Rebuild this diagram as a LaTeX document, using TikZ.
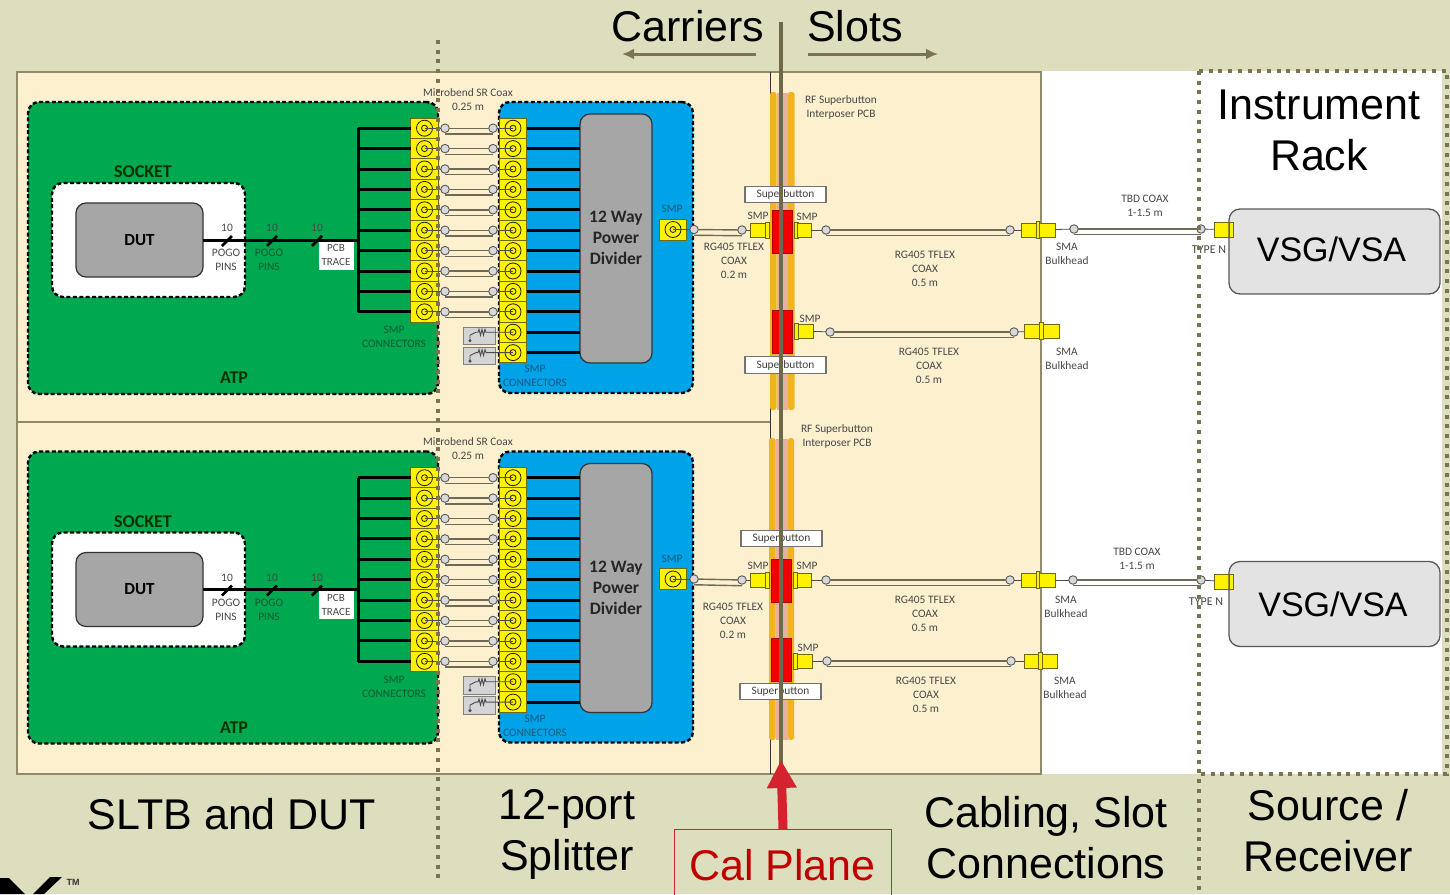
\documentclass[tikz,border=0pt]{standalone}
\usepackage{fontspec}
\setmainfont{Liberation Sans}
\newfontfamily\carlitofont{Carlito}
\usepackage{xcolor}
\usetikzlibrary{arrows.meta}

\definecolor{slidebg}{HTML}{DDDEBE}
\definecolor{creampanel}{HTML}{FDF0CF}
\definecolor{olive}{HTML}{7A7550}
\definecolor{coaxgray}{HTML}{6E6A58}
\definecolor{boardgreen}{HTML}{00A84F}
\definecolor{boardblue}{HTML}{00A3E8}
\definecolor{midgray}{HTML}{A6A6A6}
\definecolor{gold}{HTML}{F0B41E}
\definecolor{pinkish}{HTML}{E8B0A0}
\definecolor{portedge}{HTML}{6B6A10}
\definecolor{calred}{HTML}{C00000}
\definecolor{arrowred}{HTML}{D3232E}
\definecolor{smpblue}{HTML}{0E5A7E}
\definecolor{smpgreen}{HTML}{0A5A32}

\begin{document}
\begin{tikzpicture}[
    x=1pt, y=-1pt,
    board/.style={draw=black, line width=2.4pt, dash pattern=on 4pt off 2.4pt,
        rounded corners=11pt, inner sep=0pt, outer sep=0pt},
    dutbox/.style={draw=black!80, line width=1.2pt, fill=midgray, rounded corners=10pt,
        inner sep=0pt, outer sep=0pt, font=\carlitofont\bfseries\fontsize{17}{20}\selectfont, align=center},
    port/.style={draw=portedge, line width=1pt, fill=yellow, inner sep=0pt, outer sep=0pt,
        minimum width=27.5pt, minimum height=20.4pt,
        path picture={\draw[black!70!portedge, line width=0.8pt] (path picture bounding box.center) circle (8pt) circle (3pt);}},
    plug/.style={draw=portedge, line width=1pt, fill=yellow, inner sep=0pt, outer sep=0pt},
    tab/.style={plug, minimum width=4pt, minimum height=16pt},
    joint/.style={circle, draw=black!65, line width=0.9pt, fill=white!70!gray,
        minimum size=8.5pt, inner sep=0pt, outer sep=0pt},
    cable/.style={draw=coaxgray, line width=1.4pt},
    stub/.style={draw=black!70, line width=0.8pt},
    trace/.style={draw=black, line width=3pt},
    redpad/.style={draw=red!70!black, line width=0.8pt, fill=red!95!black, inner sep=0pt, outer sep=0pt,
        minimum width=20pt, minimum height=43pt},
    strip/.style={fill=gold, rounded corners=2.5pt},
    labelbox/.style={draw=black!55, line width=1.1pt, fill=white, inner sep=0pt, outer sep=0pt,
        minimum width=81pt, minimum height=16.5pt, font=\carlitofont\fontsize{11.4}{13}\selectfont, text=black!75},
    loadbox/.style={draw=black!50, line width=0.9pt, fill=black!17, inner sep=0pt, outer sep=0pt,
        minimum width=32pt, minimum height=17.5pt},
    lbl/.style={font=\carlitofont\fontsize{11.4}{14}\selectfont, text=black!72, align=center, inner sep=0pt},
    lblg/.style={lbl, text=smpgreen},
    lblb/.style={lbl, text=smpblue},
    typen/.style={lbl, font=\carlitofont\fontsize{12}{14}\selectfont},
    head/.style={font=\fontsize{43}{51}\selectfont, text=black, align=center, inner sep=0pt},
    bold/.style={font=\carlitofont\bfseries\fontsize{16}{21}\selectfont, text=black!85, align=center, inner sep=0pt},
    boardname/.style={bold, font=\carlitofont\bfseries\fontsize{18}{20}\selectfont, text=green!20!black},
    instr/.style={draw=black!65, line width=1.3pt, fill=black!11, rounded corners=11pt,
        minimum width=211pt, minimum height=85pt, inner sep=0pt, outer sep=0pt},
    instrname/.style={font=\fontsize{34}{40}\selectfont, inner sep=0pt},
    dotline/.style={draw=olive, line width=3.8pt, dash pattern=on 4pt off 5.7pt},
    dirarrow/.style={draw=olive, line width=3pt, -{Latex[length=12pt,width=11pt]}},
]

\clip (0,0) rectangle (1450,894);
\fill[slidebg] (0,0) rectangle (1450,894);

% --- panels behind everything ---
\fill[white] (1041,71) rectangle (1442,774);
\draw[olive!85, line width=1.2pt, fill=creampanel] (17,72) rectangle (1041,774);
\draw[olive!85, line width=1.2pt] (17,422) -- (770,422);
\draw[black!80, line width=0.9pt] (770,72) -- (770,774);

% --- the two identical benches: SLTB, DUT, splitter ---
\foreach \u/\yo in {a/0, b/349.5} {
\begin{scope}[yshift=-\yo pt]
    \node[board, fill=boardgreen, minimum width=410pt, minimum height=292pt] (atp\u) at (233,248) {};
    \node[board, fill=white, minimum width=193pt, minimum height=114pt] (socket\u) at (148.5,240) {};
    \node[dutbox, minimum width=127pt, minimum height=74pt] (dut\u) at (139.5,240) {DUT};
    \node[boardname] (socketlbl\u) at (143,172) {SOCKET};
    \node[boardname] (atplbl\u) at (234,378) {ATP};

    % 10 lines out of the DUT
    \node[fill=white, minimum width=35pt, minimum height=29pt, inner sep=0pt, lbl, font=\carlitofont\fontsize{11}{14}\selectfont] (pcb\u) at (336,255) {PCB\\TRACE};
    \coordinate (comb\u) at (358,240);
    \draw[trace] (dut\u.east) -- (comb\u);
    \draw[trace] (358,128.2) -- (358,312);
    \foreach \xs in {227,272,317} {
        \draw[line width=2.6pt, black] (\xs-5,246) -- (\xs+5,236);
        \node[lbl] (ten\u\xs) at (\xs,228) {10};
    }
    \node[lbl] (pogoa\u) at (226,260) {POGO\\PINS};
    \node[lblg] (pogob\u) at (269,260) {POGO\\PINS};
    \node[lblg] (smpl\u) at (394,337) {SMP\\CONNECTORS};

    % splitter board
    \node[board, fill=boardblue, minimum width=194pt, minimum height=291pt] (split\u) at (596,247.5) {};
    \node[dutbox, minimum width=72pt, minimum height=249pt, outer sep=0pt] (div\u) at (616,238.5) {};
    \node[bold, font=\carlitofont\bfseries\fontsize{17.5}{21}\selectfont] (divlbl\u) at (616,238) {12 Way\\Power\\Divider};
    \node[lblb] (smpr\u) at (535,376) {SMP\\CONNECTORS};
    \node[lbl] (coaxlbl\u) at (468,99.5) {Microbend SR Coax\\0.25 m};

    % rows of connectors
    \foreach \i in {1,...,12} {
        \node[port] (pr\u\i) at (513,{107.8+20.4*\i}) {};
        \draw[trace] (pr\u\i.east) -- (div\u.west |- pr\u\i.east);
    }
    \foreach \i in {1,...,10} {
        \node[port] (pl\u\i) at (424.5,{107.8+20.4*\i}) {};
        \draw[trace] (358,{107.8+20.4*\i}) -- (pl\u\i.west);
        \node[joint] (jl\u\i) at (445,{107.8+20.4*\i}) {};
        \node[joint] (jr\u\i) at (493,{107.8+20.4*\i}) {};
        \draw[stub] (pl\u\i.center) -- (jl\u\i);
        \draw[stub] (jr\u\i) -- (pr\u\i.center);
        \draw[cable] (jl\u\i) -- (jr\u\i);
        \draw[cable] ([yshift=-1.5pt]jl\u\i.south) -- ([yshift=-1.5pt]jr\u\i.south);
    }

    % two terminated ports
    \foreach \i in {11,12} {
        \node[loadbox] (load\u\i) at (479,{111.3+20.4*\i}) {};
        \draw[stub, line width=0.9pt, -{Circle[length=3pt]}] (pr\u\i.center) -- ++(-27,0) -- ++(-1,-3) -- ++(-1.5,6) -- ++(-1.5,-6)
            -- ++(-1.5,6) -- ++(-1.5,-6) -- ++(-1,3) -- ++(-2,0) -- ++(-6,3) -- ++(0,7);
    }

    % output port of the divider
    \node[port, minimum height=21pt] (out\u) at (673,229.5) {};
    \node[joint] (jo\u) at (694,229.5) {};
    \draw[stub] (out\u.center) -- (jo\u);
    \node[lblb] (smpo\u) at (672,209) {SMP};
\end{scope}
}

% --- interposer strips, top bench ---
\fill[strip] (770,92) rectangle (776.5,410);
\fill[pinkish] (776.5,93) rectangle (788,410);
\fill[strip] (788,92) rectangle (794.5,410);
% --- interposer strips, bottom bench ---
\fill[strip] (769,438) rectangle (775.5,740);
\fill[pinkish] (775.5,439) rectangle (788,740);
\fill[strip] (788,438) rectangle (794,740);

% --- slot connections, top bench ---
\node[labelbox] (sba) at (785.5,194.5) {Superbutton};
\node[labelbox] (sbb) at (785.5,365) {Superbutton};
\node[redpad] (pada) at (782,231.5) {};
\node[redpad] (padb) at (782,331.5) {};
\node[plug, minimum width=15pt, minimum height=14pt] (ca) at (757.5,230) {};
\node[tab] (cta) at (767.5,230) {};
\node[tab] (ctb) at (796,230) {};
\node[plug, minimum width=14pt, minimum height=14pt] (cb) at (804,230) {};
\node[tab] (ctc) at (796,331) {};
\node[plug, minimum width=15pt, minimum height=14pt] (cc) at (805.5,331) {};
\node[joint] (ja) at (742,230) {};
\node[joint] (jb) at (826,230) {};
\node[joint] (jc) at (1010,230) {};
\node[joint] (jd) at (830,332) {};
\node[joint] (je) at (1014,332) {};
\draw[stub] (ja) -- (ca);
\draw[stub] (cb) -- (jb);
\draw[stub] (cc) -- (jd);
\draw[cable] (joa) -- (ja);
\draw[cable] ([yshift=-1.5pt]joa.south) -- ([yshift=-1.5pt]ja.south);
\draw[cable] (jb) -- (jc);
\draw[cable] ([yshift=-1.5pt]jb.south) -- ([yshift=-1.5pt]jc.south);
\draw[cable] (jd) -- (je);
\draw[cable] ([yshift=-1.5pt]jd.south) -- ([yshift=-1.5pt]je.south);

\node[plug, minimum width=34pt, minimum height=14pt] (bha) at (1038,230) {};
\node[plug, minimum width=3.5pt, minimum height=17pt] (bhat) at (1038,230) {};
\node[plug, minimum width=35pt, minimum height=14pt] (bhb) at (1041.5,331) {};
\node[plug, minimum width=3.5pt, minimum height=17pt] (bhbt) at (1041.5,331) {};
\draw[stub] (jc) -- (bha);
\draw[stub] (je) -- (bhb);
\node[joint] (jf) at (1074,229) {};
\node[joint] (jg) at (1201,229) {};
\draw[stub] (bha) -- (jf);
\draw[cable] (jf) -- (jg);
\draw[cable] ([yshift=-1.5pt]jf.south) -- ([yshift=-1.5pt]jg.south);
\node[plug, minimum width=19pt, minimum height=15pt] (na) at (1223.5,229.5) {};
\draw[stub] (jg) -- (na);

\node[lbl] (rfa) at (841,107) {RF Superbutton\\Interposer PCB};
\node[lbl] (smpa) at (758,216) {SMP};
\node[lbl] (smpb) at (807,217) {SMP};
\node[lbl] (smpc) at (810,319) {SMP};
\node[lbl] (rga) at (734,261) {RG405 TFLEX\\COAX\\0.2 m};
\node[lbl] (rgb) at (925,269) {RG405 TFLEX\\COAX\\0.5 m};
\node[lbl] (rgc) at (929,366) {RG405 TFLEX\\COAX\\0.5 m};
\node[lbl] (sma) at (1067,254) {SMA\\Bulkhead};
\node[lbl] (smb) at (1067,359) {SMA\\Bulkhead};
\node[lbl] (tbda) at (1145,205.5) {TBD COAX\\1-1.5 m};
\node[typen] (tna) at (1209,250) {TYPE N};

% --- slot connections, bottom bench ---
\node[labelbox] (sbc) at (781.5,538.5) {Superbutton};
\node[labelbox] (sbd) at (780.5,691.5) {Superbutton};
\node[redpad] (padc) at (781,580.5) {};
\node[redpad] (padd) at (781,659.5) {};
\node[plug, minimum width=15pt, minimum height=14pt] (cd) at (757.5,580) {};
\node[tab] (ctd) at (767.5,580) {};
\node[tab] (cte) at (795,580) {};
\node[plug, minimum width=14pt, minimum height=14pt] (ce) at (804,580) {};
\node[tab] (ctf) at (795,661) {};
\node[plug, minimum width=15pt, minimum height=14pt] (cf) at (804.5,661) {};
\node[joint] (jh) at (742,580) {};
\node[joint] (ji) at (826,580) {};
\node[joint] (jj) at (1010,580) {};
\node[joint] (jk) at (827,661) {};
\node[joint] (jl) at (1011,661) {};
\draw[stub] (jh) -- (cd);
\draw[stub] (ce) -- (ji);
\draw[stub] (cf) -- (jk);
\draw[cable] (job) -- (jh);
\draw[cable] ([yshift=-1.5pt]job.south) -- ([yshift=-1.5pt]jh.south);
\draw[cable] (ji) -- (jj);
\draw[cable] ([yshift=-1.5pt]ji.south) -- ([yshift=-1.5pt]jj.south);
\draw[cable] (jk) -- (jl);
\draw[cable] ([yshift=-1.5pt]jk.south) -- ([yshift=-1.5pt]jl.south);

\node[plug, minimum width=34pt, minimum height=14pt] (bhc) at (1038,580) {};
\node[plug, minimum width=3.5pt, minimum height=17pt] (bhct) at (1038,580) {};
\node[plug, minimum width=33pt, minimum height=14pt] (bhd) at (1040.5,661) {};
\node[plug, minimum width=3.5pt, minimum height=17pt] (bhdt) at (1040.5,661) {};
\draw[stub] (jj) -- (bhc);
\draw[stub] (jl) -- (bhd);
\node[joint] (jm) at (1073,580) {};
\node[joint] (jn) at (1201,580) {};
\draw[stub] (bhc) -- (jm);
\draw[cable] (jm) -- (jn);
\draw[cable] ([yshift=-1.5pt]jm.south) -- ([yshift=-1.5pt]jn.south);
\node[plug, minimum width=19pt, minimum height=15pt] (nb) at (1223.5,581.5) {};
\draw[stub] (jn) -- (nb);

\node[lbl] (rfb) at (837,436.5) {RF Superbutton\\Interposer PCB};
\node[lbl] (smpd) at (758,566) {SMP};
\node[lbl] (smpe) at (807,566) {SMP};
\node[lbl] (smpf) at (808,648) {SMP};
\node[lbl] (rgd) at (733,621) {RG405 TFLEX\\COAX\\0.2 m};
\node[lbl] (rge) at (925,614) {RG405 TFLEX\\COAX\\0.5 m};
\node[lbl] (rgf) at (926,695) {RG405 TFLEX\\COAX\\0.5 m};
\node[lbl] (smc) at (1066,607) {SMA\\Bulkhead};
\node[lbl] (smd) at (1065,688) {SMA\\Bulkhead};
\node[lbl] (tbdb) at (1137,559) {TBD COAX\\1-1.5 m};
\node[typen] (tnb) at (1206,602) {TYPE N};

% --- instruments ---
\node[instr] (vsga) at (1334.5,251.5) {};
\node[instrname] (vsgalbl) at (1331.5,249) {VSG/VSA};
\node[instr] (vsgb) at (1334.5,604) {};
\node[instrname] (vsgblbl) at (1333,604) {VSG/VSA};
\node[plug, minimum width=4pt, minimum height=15pt] (nta) at (1231,229.5) {};
\node[plug, minimum width=4pt, minimum height=15pt] (ntb) at (1231,581.5) {};

% --- dotted region borders ---
\draw[dotline] (438,40) -- (438,880);
\draw[dotline] (1199,71) -- (1199,894);
\draw[dotline] (1199,71) -- (1447,71) -- (1447,774) -- (1199,774);

% --- calibration plane ---
\draw[olive!90!black, line width=4pt] (781,22) -- (781,790);
\node[draw=arrowred, line width=1pt, minimum width=217pt, minimum height=90pt, outer sep=0pt] (calbox) at (783,874) {};
\node[head, text=calred] (callbl) at (782.5,865) {Cal Plane};
\coordinate (caltip) at (781,760);
\draw[arrowred, line width=9pt, -{Triangle[length=28pt,width=28pt]}] (calbox.north) -- (caltip);

% --- headings ---
\node[head] (carriers) at (688,26) {Carriers};
\node[head] (slots) at (855,26) {Slots};
\coordinate (carrl) at (622,54);
\coordinate (carrr) at (756,54);
\coordinate (slotl) at (808,54);
\coordinate (slotr) at (938,54);
\draw[dirarrow] (carrr) -- (carrl);
\draw[dirarrow] (slotl) -- (slotr);
\node[head] (rack) at (1319,130.5) {Instrument\\Rack};
\node[head] (sltb) at (232,814) {SLTB and DUT};
\node[head] (splitter) at (567,834.5) {12-port\\Splitter};
\node[head] (cabling) at (1046,837.5) {Cabling, Slot\\Connections};
\node[head] (source) at (1328,830.5) {Source /\\Receiver};

% --- piece of the logo at the page edge ---
\fill[black] (0,878) -- (9,878) -- (25,894) -- (0,894) -- cycle;
\fill[black] (50,877) -- (62,877) -- (44,894) -- (33,894) -- cycle;
\node[font=\bfseries\fontsize{9}{10}\selectfont, text=black!80, inner sep=0pt] (tm) at (73,882) {TM};

\end{tikzpicture}
\end{document}
